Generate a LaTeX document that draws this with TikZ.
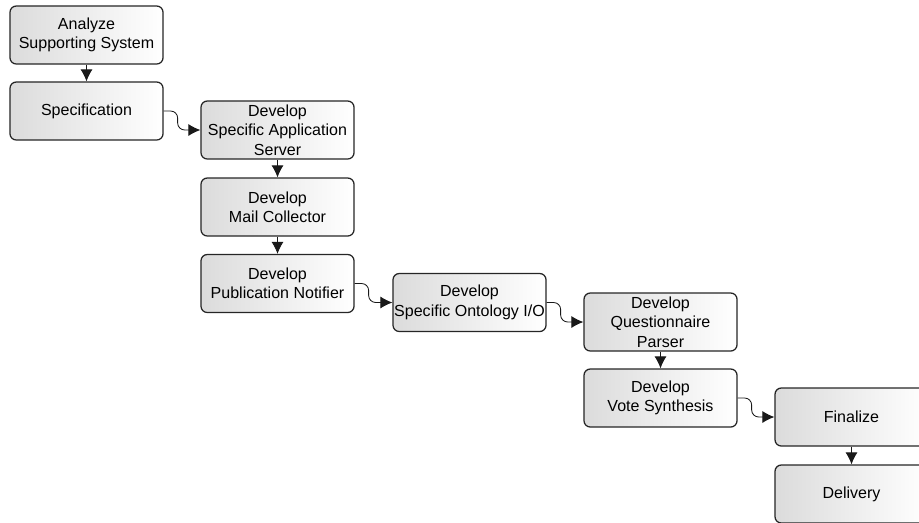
\documentclass[tikz,border=0pt]{standalone}
\usepackage{fontspec}
\setmainfont{Liberation Sans}
\usetikzlibrary{arrows.meta}

\begin{document}
\begin{tikzpicture}[x=0.025cm,y=-0.025cm,
  task/.style={draw=black!85, line width=0.9pt, rounded corners=4.5pt,
    left color=black!14, middle color=black!4, right color=white,
    minimum width=3.825cm, minimum height=1.45cm, inner sep=0pt,
    align=center, font=\fontsize{11.4}{13.8}\selectfont},
  flow/.style={draw=black!90, line width=0.6pt, -{Latex[length=8.5pt,width=8.5pt]}}]
\path[use as bounding box, clip] (0,0) rectangle (919,522);

\node[task] (analyze) at (86.5,35) {Analyze\\Supporting System};
\node[task] (spec) at (86.5,111) {Specification};
\node[task] (appserver) at (277.5,130) {Develop\\Specific Application\\Server};
\node[task] (mailcoll) at (277.5,207) {Develop\\Mail Collector};
\node[task] (pubnotif) at (277.5,283.5) {Develop\\Publication Notifier};
\node[task] (ontology) at (469.5,302.5) {Develop\\Specific Ontology I/O};
\node[task] (questparser) at (660.5,322) {Develop\\Questionnaire\\Parser};
\node[task] (votesynth) at (660.5,398) {Develop\\Vote Synthesis};
\node[task] (finalize) at (851.5,417) {Finalize};
\node[task] (delivery) at (851.5,494) {Delivery};

\draw[flow] (analyze) -- (spec);
\draw[flow] (appserver) -- (mailcoll);
\draw[flow] (mailcoll) -- (pubnotif);
\draw[flow] (questparser) -- (votesynth);
\draw[flow] (finalize) -- (delivery);

\draw[flow, rounded corners=5pt] (spec.east) -- ++(14,0) |- (appserver.west);
\draw[flow, rounded corners=5pt] (pubnotif.east) -- ++(14,0) |- (ontology.west);
\draw[flow, rounded corners=5pt] (ontology.east) -- ++(14,0) |- (questparser.west);
\draw[flow, rounded corners=5pt] (votesynth.east) -- ++(14,0) |- (finalize.west);
\end{tikzpicture}
\end{document}
